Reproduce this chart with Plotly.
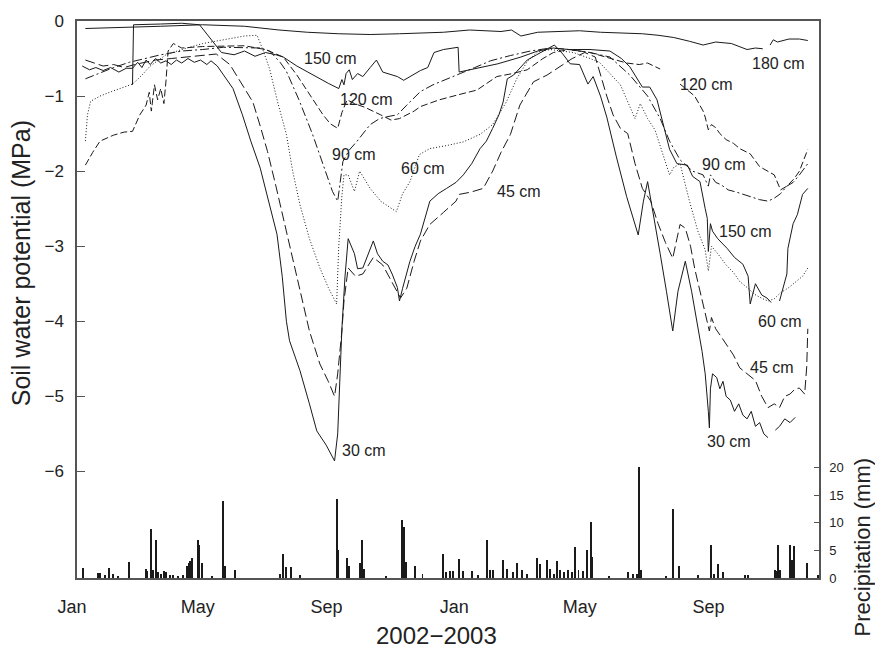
import numpy as np
import pandas as pd
import plotly.graph_objects as go

BASE = pd.Timestamp("2002-01-01")
NAN = None

# ---------------- data (days since 2002-01-01, soil water potential MPa) ----------------
d180 = [8, 40, 80, 120, 160, 193, 220, 250, 280, 308, 330, 350, 375, 390, 405, 415, 424, 440, 460, 480,
        500, 520, 540, 555, 570, 585, 598, 610, 625, 640, 648, 655, 658, 662, 665, 669, 680, 690, 698]
v180 = [-0.10, -0.09, -0.07, -0.05, -0.07, -0.12, -0.15, -0.17, -0.18, -0.17, -0.16, -0.15, -0.12, -0.13,
        -0.14, -0.12, -0.20, -0.15, -0.14, -0.13, -0.15, -0.16, -0.17, -0.19, -0.22, -0.27, -0.32, -0.28,
        -0.30, -0.38, -0.36, -0.37, NAN, -0.32, -0.25, -0.28, -0.24, -0.24, -0.26]

d150 = [53, 54, 80, 100, 117, 128, 138, 150, 160, 170, 180, 190, 197, 210, 225, 240, 250, 253, 255, 257,
        260, 263, 268, 273, 280, 286, 292, 300, 306, 312, 320, 328, 335, 341, 350, 358, 364, 365, 372, 385,
        402, 424, 440, 455, 470, 490, 509, 520, 528, 540, 547, 554, 566, 573, 583, 588, 595, 600, 602, 603,
        605, 607, 612, 621, 628, 636, 641, 643, 648, 654, 659, 663, 667, 671, 678, 679, 684, 688, 693, 698]
v150 = [-0.85, -0.05, -0.04, -0.03, -0.05, -0.25, -0.42, -0.45, -0.40, -0.47, -0.42, -0.45, -0.48, -0.60,
        -0.72, -0.83, -0.90, -0.78, -0.85, -0.70, -0.65, -0.78, -0.70, -0.74, -0.62, -0.52, -0.68, -0.72,
        -0.74, -0.79, -0.73, -0.66, -0.62, -0.42, -0.38, -0.36, -0.35, -0.68, -0.66, -0.62, -0.57, -0.48,
        -0.40, -0.36, -0.38, -0.38, -0.40, -0.50, -0.61, -0.88, -0.88, -1.05, -1.71, -1.90, -1.92, -2.07,
        -2.14, -2.50, -2.63, -3.07, -2.70, -2.80, -2.90, -3.03, -3.15, -3.24, -3.40, -3.77, -3.50, -3.65,
        -3.69, -3.75, NAN, -3.73, -3.37, -3.03, -2.70, -2.58, -2.31, -2.23]

d120 = [8, 15, 22, 28, 35, 45, 53, 60, 66, 69, 71, 74, 77, 80, 83, 85, 87, 92, 100, 120, 140, 160, 180,
        197, 210, 222, 235, 242, 249, 253, 258, 265, 275, 290, 300, 308, 315, 322, 328, 346, 365, 382, 401,
        416, 430, 445, 455, 470, 490, 509, 525, 537, 545, 557, 566, 576, 585, 590, 598, 600, 603, 606, 610,
        614, 620, 627, 633, 643, 652, 660, 666, 672, 678, 685, 690, 698]
v120 = [-1.92, -1.75, -1.60, -1.56, -1.52, -1.48, -1.47, -1.25, -1.12, -0.95, -1.20, -0.85, -1.05, -0.90,
        -1.10, -0.80, -0.40, -0.30, -0.36, -0.34, -0.33, -0.33, -0.38, -0.48, -0.72, -0.97, -1.25, -1.37,
        -1.43, -1.22, -1.05, -1.10, -1.15, -1.25, -1.32, -1.30, -1.25, -1.20, -1.14, -1.05, -0.98, -0.92,
        -0.74, -0.70, -0.65, -0.50, -0.42, -0.38, -0.42, -0.50, -0.56, -0.58, -0.56, -0.64, NAN, -0.84,
        -0.95, -1.00, -1.20, -1.28, -1.45, -1.38, -1.42, -1.50, -1.58, -1.63, -1.70, -1.77, -1.94, -2.00,
        -2.05, -2.25, -2.20, -2.10, -2.00, -1.71]

d90 = [8, 20, 35, 50, 65, 80, 100, 120, 140, 160, 175, 184, 194, 200, 212, 225, 235, 244, 249, 254, 260,
       267, 280, 289, 298, 306, 315, 328, 340, 353, 366, 380, 395, 414, 433, 452, 470, 490, 509, 528, 545,
       557, 566, 576, 588, 598, 603, 605, 610, 615, 622, 630, 638, 645, 652, 660, 666, 672, 678, 684, 690, 698]
v90 = [-0.77, -0.70, -0.62, -0.55, -0.50, -0.45, -0.40, -0.38, -0.35, -0.35, -0.36, -0.40, -0.55, -0.67,
       -1.05, -1.51, -1.90, -2.27, -2.40, -1.87, -1.72, -1.61, -1.38, -1.30, -1.27, -1.25, -1.12, -0.94,
       -0.85, -0.77, -0.70, -0.62, -0.53, -0.46, -0.40, -0.36, -0.38, -0.42, -0.48, -0.72, -1.00, -1.30,
       -1.60, -1.85, -2.00, -2.05, -2.20, -2.05, -2.15, -2.18, -2.25, -2.28, -2.32, -2.35, -2.38, -2.40,
       -2.36, -2.30, -2.20, -2.15, -2.05, -1.90]

d60 = [8, 10, 13, 22, 31, 45, 53, 60, 70, 85, 100, 120, 140, 160, 172, 178, 184, 192, 200, 206, 213, 222,
       232, 240, 248, 250, 253, 255, 259, 265, 270, 274, 280, 290, 300, 305, 311, 318, 327, 337, 353, 369,
       385, 397, 410, 420, 430, 440, 452, 461, 474, 490, 499, 509, 519, 533, 538, 545, 552, 566, 570, 576,
       585, 593, 600, 603, 606, 612, 620, 627, 633, 640, 647, 655, 660, 666, 672, 680, 687, 693, 698]
v60 = [-1.60, -1.25, -1.07, -1.00, -0.95, -0.88, -0.84, -0.75, -0.60, -0.45, -0.38, -0.30, -0.25, -0.20,
       -0.19, -0.40, -0.64, -1.10, -1.51, -2.00, -2.45, -2.90, -3.29, -3.55, -3.77, -3.00, -2.33, -2.05,
       -2.05, -2.27, -2.00, -2.10, -2.23, -2.40, -2.50, -2.54, -2.30, -2.14, -1.78, -1.70, -1.66, -1.61,
       -1.51, -1.38, -1.08, -0.77, -0.54, -0.41, -0.38, -0.40, -0.42, -0.50, -0.55, -0.70, -0.85, -1.30,
       -1.10, -1.30, -1.45, -2.05, -1.95, -1.90, -2.40, -2.80, -3.05, -3.33, -3.00, -3.10, -3.25, -3.35,
       -3.47, -3.55, -3.64, -3.70, -3.73, -3.70, -3.62, -3.55, -3.47, -3.40, -3.29]

d45 = [8, 15, 25, 35, 45, 55, 65, 75, 90, 105, 120, 133, 146, 156, 168, 175, 182, 190, 197, 205, 213, 222,
       232, 240, 246, 249, 253, 255, 259, 266, 273, 283, 292, 302, 309, 315, 322, 328, 337, 350, 362, 365,
       376, 388, 397, 405, 414, 423, 436, 449, 464, 473, 485, 495, 506, 512, 519, 526, 533, 540, 548, 555,
       562, 569, 573, 576, 581, 586, 590, 595, 600, 604, 606, 610, 615, 620, 627, 633, 640, 648, 654, 660,
       666, 671, 676, 681, 686, 690, 695, 697, 698]
v45 = [-0.52, -0.55, -0.60, -0.58, -0.62, -0.58, -0.55, -0.52, -0.50, -0.48, -0.45, -0.44, -0.58, -0.80,
       -1.08, -1.40, -1.74, -2.20, -2.63, -3.10, -3.60, -4.13, -4.57, -4.80, -5.00, -4.70, -4.13, -3.73,
       -3.29, -3.40, -3.37, -3.15, -3.25, -3.50, -3.69, -3.56, -3.20, -2.93, -2.71, -2.55, -2.40, -2.31,
       -2.28, -2.23, -2.00, -1.75, -1.51, -1.12, -0.81, -0.72, -0.58, -0.50, -0.42, -0.48, -1.00, -1.25,
       -1.43, -1.50, -1.90, -2.23, -2.40, -2.70, -2.95, -3.16, -2.90, -2.71, -2.76, -3.00, -3.30, -3.60,
       -3.90, -4.13, -3.95, -4.10, -4.20, -4.30, -4.45, -4.62, -4.70, -4.79, -5.00, -5.15, -5.10, -5.15,
       -5.00, -4.97, -4.90, -4.89, -4.97, -4.60, -4.10]

d30 = [5, 12, 18, 25, 32, 40, 47, 53, 58, 62, 66, 70, 75, 80, 85, 90, 95, 100, 106, 112, 118, 124, 128,
       134, 140, 149, 158, 166, 175, 183, 191, 196, 200, 203, 213, 222, 229, 238, 246, 249, 251, 253, 256,
       259, 265, 268, 273, 278, 283, 287, 292, 297, 301, 306, 308, 311, 318, 323, 328, 337, 345, 353, 362,
       369, 377, 385, 391, 397, 403, 407, 411, 417, 423, 430, 439, 445, 452, 456, 460, 464, 471, 480, 488,
       493, 500, 506, 515, 525, 536, 541, 545, 551, 557, 563, 569, 574, 581, 587, 592, 597, 600, 602, 603,
       604, 605, 607, 611, 614, 617, 620, 624, 628, 632, 636, 640, 644, 648, 652, 656, 660, 663, 667, 671,
       676, 681, 686]
v30 = [-0.60, -0.65, -0.62, -0.66, -0.62, -0.68, -0.63, -0.63, -0.55, -0.62, -0.52, -0.58, -0.50, -0.56,
       -0.53, -0.58, -0.52, -0.56, -0.50, -0.55, -0.52, -0.58, -0.53, -0.60, -0.72, -0.90, -1.25, -1.60,
       -1.96, -2.40, -2.84, -3.40, -4.00, -4.26, -4.66, -5.10, -5.46, -5.65, -5.86, -5.50, -4.80, -4.10,
       -3.40, -2.90, -3.10, -3.30, -3.29, -3.10, -2.93, -3.10, -3.20, -3.25, -3.37, -3.55, -3.73, -3.56,
       -3.20, -3.00, -2.84, -2.40, -2.30, -2.23, -2.15, -2.05, -1.90, -1.70, -1.60, -1.43, -1.25, -1.08,
       -0.77, -0.72, -0.63, -0.52, -0.45, -0.40, -0.35, -0.32, -0.38, -0.44, -0.57, -0.58, -0.84, -0.74,
       -1.00, -1.28, -1.80, -2.34, -2.85, -2.40, -2.14, -2.60, -3.10, -3.60, -4.13, -3.60, -3.20, -3.60,
       -4.00, -4.40, -4.70, -5.00, -5.20, -5.42, -4.90, -4.70, -4.75, -4.90, -4.80, -5.00, -5.05, -5.20,
       -5.10, -5.25, -5.30, -5.20, -5.40, -5.35, -5.50, -5.55, NAN, -5.45, -5.40, -5.30, -5.35, -5.28]

# precipitation (days since 2002-01-01, mm)
p_day = [6, 20, 22, 27, 31, 34, 39, 50, 66, 67, 71, 73, 75, 77, 80, 83, 85, 89, 92, 96, 101, 105, 107, 108,
         110, 116, 117, 119, 129, 139, 141, 151, 194, 197, 200, 204, 213, 248, 249, 258, 260, 270, 272, 274,
         295, 310, 312, 314, 323, 330, 350, 352, 356, 359, 365, 369, 377, 383, 392, 394, 397, 407, 411, 416,
         420, 425, 430, 439, 442, 449, 452, 456, 458, 461, 465, 469, 473, 476, 479, 483, 487, 491, 492, 508,
         526, 531, 535, 537, 539, 563, 569, 575, 593, 606, 608, 612, 617, 638, 641, 667, 669, 670, 671, 681,
         683, 685, 697, 708]
p_mm = [1.8, 0.9, 0.9, 0.5, 1.8, 0.7, 0.4, 2.9, 1.6, 1.2, 8.9, 1.5, 6.8, 1.0, 0.8, 1.2, 1.0, 0.6, 0.5, 0.4,
        0.5, 2.2, 2.8, 3.0, 3.6, 6.9, 6.0, 2.7, 0.3, 13.9, 2.2, 1.4, 0.8, 4.4, 2.0, 2.0, 0.5, 14.3, 5.0, 3.6,
        2.2, 2.7, 6.8, 1.7, 0.2, 10.4, 9.3, 2.9, 2.2, 0.8, 4.4, 1.0, 1.2, 1.3, 3.4, 1.2, 1.3, 0.5, 6.8, 1.4,
        1.4, 3.2, 1.6, 1.0, 2.8, 1.5, 0.8, 3.7, 2.5, 3.2, 1.7, 0.8, 3.0, 1.4, 1.0, 1.5, 1.0, 5.6, 1.5, 1.3,
        5.1, 10.2, 3.8, 0.3, 1.0, 0.8, 0.8, 20.0, 1.4, 0.3, 12.5, 2.2, 0.6, 6.0, 0.8, 2.5, 1.0, 0.5, 0.5, 1.5,
        1.2, 6.0, 1.5, 6.0, 3.3, 5.7, 2.8, 0.5]

month_ticks = ["2002-01-01", "2002-05-01", "2002-09-01", "2003-01-01", "2003-05-01", "2003-09-01"]
month_text = ["Jan", "May", "Sep", "Jan", "May", "Sep"]
y_ticks = [-6, -5, -4, -3, -2, -1, 0]
p_ticks = [0, 5, 10, 15, 20]

# label positions: (text, day, MPa)
labels = [("150 cm", 241.6, -0.50), ("120 cm", 276, -1.04), ("90 cm", 264.6, -1.78),
          ("60 cm", 330.5, -1.97), ("45 cm", 422, -2.27), ("30 cm", 274, -5.72),
          ("180 cm", 669.5, -0.57), ("120 cm", 601, -0.85), ("90 cm", 618, -1.91),
          ("150 cm", 638, -2.80), ("60 cm", 671.4, -4.00), ("45 cm", 664, -4.61),
          ("30 cm", 623, -5.60)]


def to_dates(days):
    return BASE + pd.to_timedelta(np.asarray(days, dtype=float), unit="D")


FONT = "Liberation Sans, Arial, Helvetica, sans-serif"
INK = "#1a1a1a"

series = [
    (d30, v30, "solid"),
    (d45, v45, "10px,4px"),
    (d60, v60, "1px,2px"),
    (d90, v90, "9px,3px,2px,3px"),
    (d120, v120, "7px,3px"),
    (d150, v150, "solid"),
    (d180, v180, "solid"),
]

fig = go.Figure()
for d, v, dash in series:
    fig.add_trace(go.Scatter(
        x=to_dates(d), y=[np.nan if q is None else q for q in v], mode="lines",
        line=dict(color=INK, width=1, dash=dash), connectgaps=False,
        showlegend=False, hoverinfo="skip", xaxis="x", yaxis="y"))

fig.add_trace(go.Bar(
    x=to_dates(p_day), y=p_mm, yaxis="y2", xaxis="x",
    marker=dict(color=INK, line=dict(width=0)), width=86400000 * 0.95,
    showlegend=False, hoverinfo="skip"))

x_end = BASE + pd.Timedelta(days=708.7)
x_range = [BASE, x_end]

annotations = []
for txt, day, val in labels:
    annotations.append(dict(x=BASE + pd.Timedelta(days=day), y=val, xref="x", yref="y",
                            text=txt, showarrow=False, xanchor="center", yanchor="middle",
                            font=dict(family=FONT, size=16, color="#222")))
annotations += [
    dict(x=0.485, y=-0.104, xref="paper", yref="paper", text="2002\u22122003", showarrow=False,
         xanchor="center", yanchor="middle", font=dict(family=FONT, size=24, color="#222")),
    dict(x=-0.0755, y=0.565, xref="paper", yref="paper", text="Soil water potential (MPa)",
         showarrow=False, textangle=-90, xanchor="center", yanchor="middle",
         font=dict(family=FONT, size=25, color="#222")),
    dict(x=1.058, y=0.055, xref="paper", yref="paper", text="Precipitation (mm)",
         showarrow=False, textangle=-90, xanchor="center", yanchor="middle",
         font=dict(family=FONT, size=22, color="#222")),
]

AX = "#555555"
fig.update_layout(
    width=875, height=648,
    margin=dict(l=77, r=56, t=19, b=70, pad=0),
    paper_bgcolor="white", plot_bgcolor="white",
    font=dict(family=FONT, color="#222"),
    bargap=0,
    xaxis=dict(type="date", range=x_range, tickvals=month_ticks, ticktext=month_text,
               ticks="", showgrid=False, zeroline=False, showline=True, linecolor=AX,
               linewidth=1.5, mirror=True, tickfont=dict(size=18, color="#222"),
               ticklabelstandoff=12, ticklabelshift=-5),
    xaxis2=dict(type="date", range=x_range, overlaying="x", side="top", anchor="y",
                tickvals=month_ticks, ticks="inside", ticklen=6, tickcolor=AX, tickwidth=1,
                showticklabels=False, showgrid=False, zeroline=False, showline=False),
    yaxis=dict(range=[-7.42, 0], tickvals=y_ticks, ticks="inside", ticklen=8, tickcolor=AX,
               tickwidth=1.2, showgrid=False, zeroline=False, showline=True, linecolor=AX,
               linewidth=1.5, tickfont=dict(size=17, color="#222"), ticklabelstandoff=8),
    yaxis2=dict(range=[0, 100.7], overlaying="y", side="right", anchor="x", tickvals=p_ticks,
                ticks="inside", ticklen=5, tickcolor=AX, tickwidth=1, showgrid=False,
                zeroline=False, showline=True, linecolor=AX, linewidth=1.5,
                tickfont=dict(size=13, color="#222"), ticklabelstandoff=6),
    annotations=annotations,
)

fig.write_html("out.html")
